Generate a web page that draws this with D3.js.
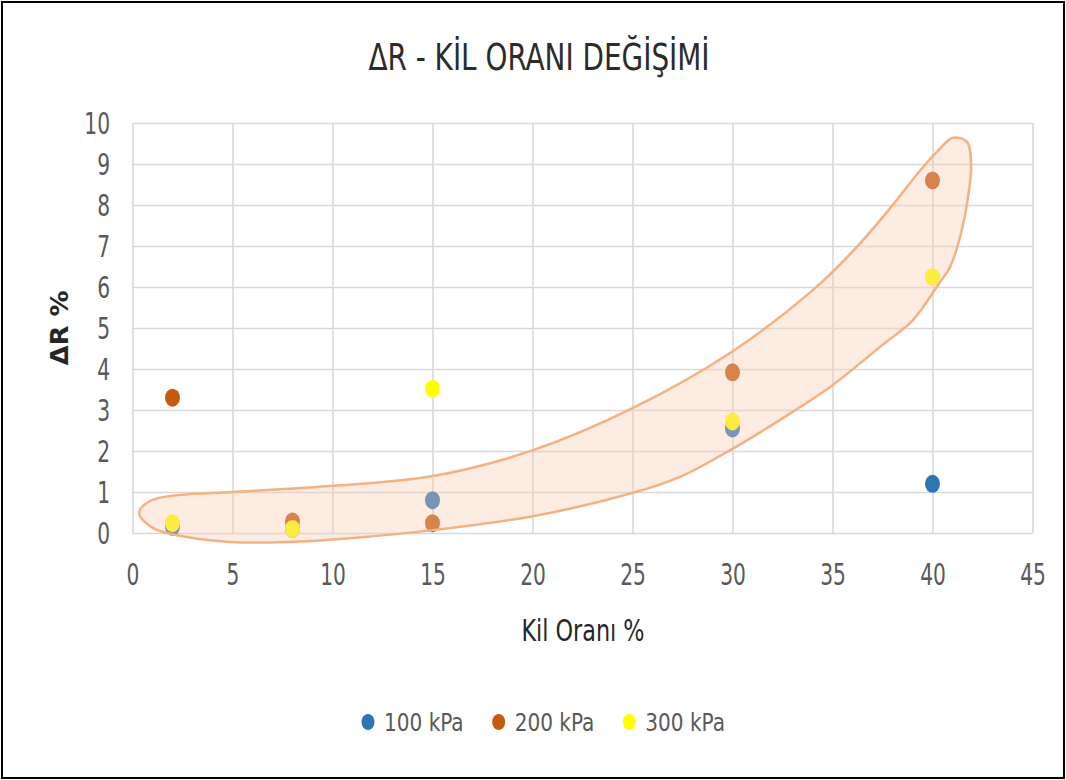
<!DOCTYPE html>
<html>
<head>
<meta charset="utf-8">
<script src="https://cdn.jsdelivr.net/npm/d3@7"></script>
<style>
  body { margin: 0; background: #fff; }
  text { font-family: "Liberation Sans Narrow", "DejaVu Sans Condensed", "Open Sans", sans-serif; }
  .tall { transform-box: fill-box; transform-origin: center; }
</style>
</head>
<body>
<div id="chart"></div>
<script>
// data
var clay = [2, 8, 15, 30, 40];
var kpa100 = [0.15, 0.1, 0.8, 2.55, 1.2];
var kpa200 = [3.3, 0.28, 0.24, 3.92, 8.6];
var kpa300 = [0.24, 0.1, 3.52, 2.72, 6.24];
var seriesNames = ["100 kPa", "200 kPa", "300 kPa"];
var seriesColors = ["#2E75B6", "#C55A11", "#FFFF00"];
var xTicks = [0, 5, 10, 15, 20, 25, 30, 35, 40, 45];
var yTicks = [0, 1, 2, 3, 4, 5, 6, 7, 8, 9, 10];
// hand drawn highlight shape (in chart units)
var blobX = [0.33, 0.88, 2.38, 5.03, 10.03, 15.03, 20.03, 25.03, 30.03, 34.03, 36.13, 37.93, 39.23, 40.23, 41.03, 41.73, 41.93, 41.78, 41.38, 40.88, 40.28, 39.03, 37.38, 34.88, 32.38, 29.88, 27.38, 25.03, 20.03, 15.03, 11.03, 7.73, 4.88, 2.73, 1.03];
var blobY = [0.49, 0.78, 0.93, 1.0, 1.15, 1.39, 2.02, 3.05, 4.44, 5.93, 6.93, 7.95, 8.75, 9.3, 9.64, 9.54, 8.98, 8.2, 7.22, 6.49, 6.05, 5.2, 4.54, 3.56, 2.76, 2.02, 1.37, 0.98, 0.41, 0.07, -0.12, -0.22, -0.22, -0.1, 0.12];

var W = 1066, H = 780;
var margin = { top: 123, left: 132.5, right: 33.5, bottom: 247 },
    width = W - margin.left - margin.right,
    height = H - margin.top - margin.bottom;

var root = d3.select("#chart").append("svg")
  .attr("width", W)
  .attr("height", H);

// outer frame
root.append("rect")
  .attr("x", 2).attr("y", 2)
  .attr("width", W - 4).attr("height", H - 4)
  .attr("fill", "none")
  .attr("stroke", "#000")
  .attr("stroke-width", 2);

root.append("text")
  .attr("class", "tall")
  .attr("x", 539)
  .attr("y", 56)
  .attr("dy", "0.36em")
  .attr("text-anchor", "middle")
  .attr("fill", "#2b2b2b")
  .style("font-size", "31px")
  .style("transform", "scaleY(1.22)")
  .text("ΔR - KİL ORANI DEĞİŞİMİ");

var svg = root.append("g")
  .attr("transform", "translate(" + margin.left + "," + margin.top + ")");

var x = d3.scaleLinear().domain([0, 45]).range([0, width]);
var y = d3.scaleLinear().domain([0, 10]).range([height, 0]);

// grid + axes
var xAxis = d3.axisBottom(x).tickValues(xTicks).tickSize(-height);
var yAxis = d3.axisLeft(y).tickValues(yTicks).tickSize(-width);

svg.append("g")
  .attr("class", "x-axis")
  .attr("transform", "translate(0," + height + ")")
  .call(xAxis);

svg.append("g")
  .attr("class", "y-axis")
  .call(yAxis);

svg.selectAll(".domain").remove();
svg.selectAll(".tick line")
  .attr("stroke", "#D9D9D9")
  .attr("stroke-width", 1.6);
svg.selectAll(".tick text")
  .attr("class", "tall")
  .attr("fill", "#595959")
  .style("font-size", "22.5px")
  .style("transform", "scaleY(1.32)");
svg.selectAll(".x-axis .tick text").attr("y", 41).attr("dy", "0.36em");
svg.selectAll(".y-axis .tick text").attr("x", -22.5).attr("dy", "0.36em");

// points
var allSeries = [kpa100, kpa200, kpa300];
allSeries.forEach(function(vals, i) {
  svg.selectAll(".pt" + i)
    .data(vals)
    .enter().append("ellipse")
    .attr("class", "pt" + i)
    .attr("cx", function(d, j) { return x(clay[j]); })
    .attr("cy", function(d) { return y(d); })
    .attr("rx", 7.5)
    .attr("ry", 9)
    .attr("fill", seriesColors[i]);
});

// highlight shape drawn over the points
var blob = blobX.map(function(v, i) { return [v, blobY[i]]; });
svg.append("path")
  .datum(blob)
  .attr("d", d3.line()
    .x(function(d) { return x(d[0]); })
    .y(function(d) { return y(d[1]); })
    .curve(d3.curveCatmullRomClosed.alpha(0.5)))
  .attr("fill", "#F8CBAD")
  .attr("fill-opacity", 0.37)
  .attr("stroke", "#F4B183")
  .attr("stroke-width", 2.5);

// axis titles
root.append("text")
  .attr("transform", "translate(59,328) rotate(-90) scale(1.2,1)")
  .attr("text-anchor", "middle")
  .attr("dy", "0.36em")
  .attr("fill", "#262626")
  .style("font-size", "24px")
  .style("font-weight", "bold")
  .text("ΔR %");

root.append("text")
  .attr("class", "tall")
  .attr("x", 583)
  .attr("y", 630)
  .attr("dy", "0.36em")
  .attr("text-anchor", "middle")
  .attr("fill", "#262626")
  .style("font-size", "24.8px")
  .style("transform", "scaleY(1.2)")
  .text("Kil Oranı %");

// legend
var legend = root.append("g");
var lx = 0;
seriesNames.forEach(function(name, i) {
  var item = legend.append("g").attr("transform", "translate(" + lx + ",0)");
  item.append("ellipse")
    .attr("cx", 7).attr("cy", 0)
    .attr("rx", 6.5).attr("ry", 8)
    .attr("fill", seriesColors[i]);
  var t = item.append("text")
    .attr("class", "tall")
    .attr("x", 23)
    .attr("y", 0)
    .attr("dy", "0.36em")
    .attr("fill", "#595959")
    .style("font-size", "22.3px")
    .style("transform", "scaleY(1.1)")
    .text(name);
  lx += 23 + t.node().getComputedTextLength() + 28;
});
var lw = lx - 28;
legend.attr("transform", "translate(" + (543 - lw / 2) + ",722)");
</script>
</body>
</html>
